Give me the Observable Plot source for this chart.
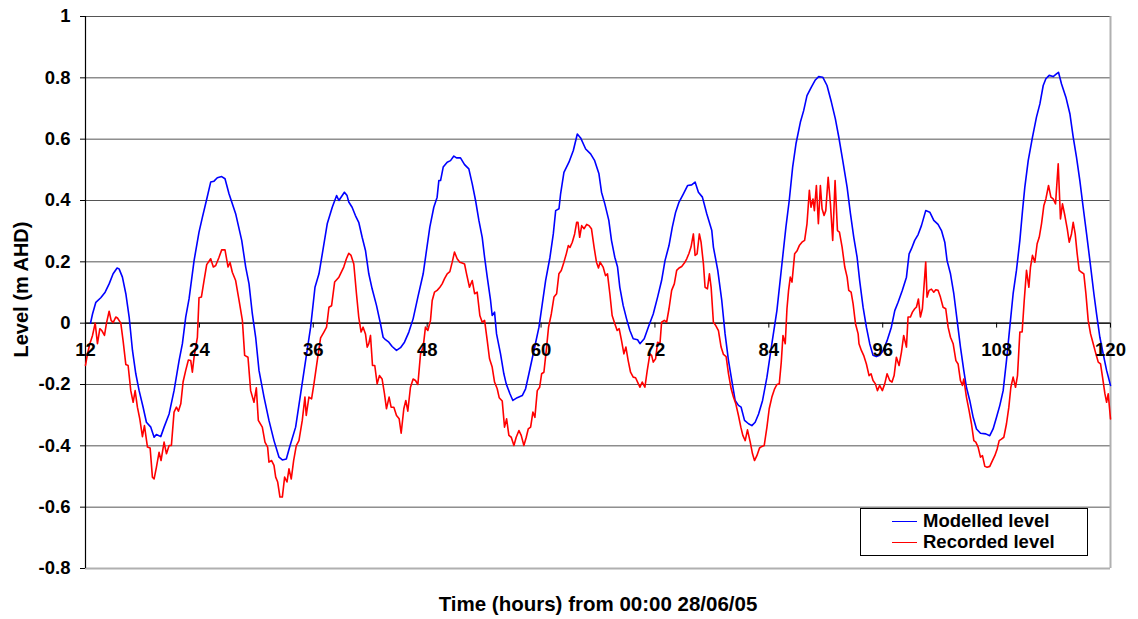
<!DOCTYPE html>
<html>
<head>
<meta charset="utf-8">
<script src="https://cdn.jsdelivr.net/npm/d3@7"></script>
<script src="https://cdn.jsdelivr.net/npm/@observablehq/plot@0.6"></script>
<style>
  html, body { margin: 0; padding: 0; background: #fff; }
  #wrap { position: relative; width: 1138px; height: 619px; font-family: "Liberation Sans", Arial, sans-serif; }
  #legend { position: absolute; left: 860px; top: 508px; width: 226px; height: 46px; border: 1px solid #000; background: #fff; }
  .item { position: absolute; left: 0; height: 20px; display: flex; align-items: center; font-weight: bold; font-size: 18.5px; color: #000; }
  .sw { width: 25px; height: 0; border-top: 1.5px solid; margin-left: 31px; margin-right: 6px; }
</style>
</head>
<body>
<div id="wrap">
  <div id="chart"></div>
  <div id="legend">
    <div class="item" style="top:2px"><span class="sw" style="border-color:#0000ff"></span>Modelled level</div>
    <div class="item" style="top:23px"><span class="sw" style="border-color:#ff0000"></span>Recorded level</div>
  </div>
</div>
<script>
const xTicks = [12, 24, 36, 48, 60, 72, 84, 96, 108, 120];
const yTicks = [-0.8, -0.6, -0.4, -0.2, 0, 0.2, 0.4, 0.6, 0.8, 1];
const xTitle = "Time (hours) from 00:00 28/06/05";
const yTitle = "Level (m AHD)";

const modelledHours = [12.53,12.74,13.09,13.61,14.07,14.49,14.91,15.33,15.54,15.89,16.25,16.60,16.95,17.30,17.65,18.07,18.42,18.88,19.23,19.47,19.93,20.28,20.81,21.33,21.86,22.21,22.56,22.91,23.44,23.96,24.32,24.74,25.19,25.54,25.89,26.35,26.70,27.12,27.82,28.46,28.88,29.23,29.58,29.93,30.28,30.81,31.33,31.86,32.39,32.74,33.16,33.51,34.14,34.67,35.19,35.72,36.18,36.60,36.95,37.47,38.00,38.46,38.70,
39.28,39.56,39.74,40.09,40.44,40.79,41.15,41.50,41.85,42.20,42.66,43.08,43.36,43.61,43.96,44.31,44.77,45.19,45.61,46.07,46.52,47.02,47.58,47.93,48.28,48.70,49.05,49.23,49.41,49.69,50.11,50.46,50.81,51.09,51.51,51.94,52.39,52.75,53.10,53.45,53.80,54.05,54.33,54.68,54.85,55.10,55.31,55.73,56.08,56.33,56.72,57.03,57.49,58.02,58.37,58.72,59.25,59.78,60.13,60.48,60.94,61.29,61.54,61.89,62.06,62.41,62.94,63.40,63.82,64.17,64.70,65.22,65.65,66.10,
66.37,66.72,67.14,67.42,67.77,68.06,68.30,68.65,69.01,69.36,69.71,70.17,70.42,70.87,71.30,71.82,72.28,72.70,73.06,73.48,73.83,74.18,74.54,75.00,75.45,75.87,76.23,76.58,77.00,77.46,77.99,78.16,78.62,79.04,79.39,79.75,80.10,80.45,80.80,81.08,81.44,81.86,82.21,82.56,82.92,83.34,83.80,84.32,84.85,85.38,85.80,86.15,86.51,86.86,87.32,87.67,88.02,88.48,88.90,89.25,89.68,90.13,90.59,91.01,91.37,91.79,92.25,92.60,92.95,93.30,
93.57,93.93,94.28,94.63,94.98,95.33,95.68,96.04,96.46,96.91,97.27,97.62,98.07,98.50,98.78,99.02,99.37,99.73,100.08,100.53,100.96,101.38,101.83,102.19,102.54,102.78,103.14,103.49,103.84,104.19,104.54,104.82,105.17,105.53,105.88,106.30,106.86,107.28,107.63,107.99,108.34,108.69,109.04,109.39,109.74,110.09,110.45,110.73,110.97,111.33,111.78,112.20,112.56,112.91,113.19,113.54,113.96,114.24,114.52,114.84,115.30,115.72,116.07,116.42,116.77,117.12,117.48,117.83,118.25,118.53,118.88,119.23,119.59,120.00];
const modelledLevels = [0,0.03,0.068,0.083,0.101,0.128,0.161,0.18,0.177,0.15,0.096,0.02,-0.089,-0.165,-0.22,-0.274,-0.323,-0.339,-0.372,-0.363,-0.37,-0.339,-0.296,-0.22,-0.122,-0.067,0.02,0.079,0.204,0.297,0.346,0.4,0.46,0.463,0.474,0.478,0.471,0.422,0.357,0.27,0.183,0.128,0.03,-0.046,-0.154,-0.241,-0.317,-0.383,-0.437,-0.446,-0.443,-0.404,-0.339,-0.23,-0.122,-0.013,0.117,0.161,0.226,0.324,0.378,0.416,0.4,
0.427,0.416,0.395,0.378,0.351,0.329,0.28,0.237,0.161,0.112,0.058,-0.002,-0.046,-0.054,-0.062,-0.076,-0.089,-0.08,-0.062,-0.029,0.014,0.085,0.161,0.237,0.313,0.378,0.411,0.465,0.465,0.509,0.525,0.53,0.545,0.539,0.539,0.517,0.503,0.454,0.4,0.335,0.28,0.215,0.15,0.074,0.025,0.036,-0.035,-0.1,-0.165,-0.198,-0.23,-0.252,-0.243,-0.236,-0.214,-0.165,-0.089,-0.013,0.063,0.139,0.215,0.291,0.367,0.373,0.422,0.492,0.525,0.563,0.617,0.604,0.568,0.552,0.53,0.487,
0.427,0.389,0.335,0.27,0.215,0.183,0.117,0.058,0.014,-0.024,-0.051,-0.054,-0.067,-0.051,-0.013,0.03,0.085,0.139,0.204,0.253,0.313,0.362,0.395,0.422,0.449,0.451,0.46,0.427,0.411,0.357,0.302,0.248,0.172,0.074,-0.035,-0.122,-0.187,-0.252,-0.268,-0.274,-0.317,-0.328,-0.334,-0.323,-0.296,-0.252,-0.176,-0.067,0.041,0.193,0.313,0.4,0.509,0.585,0.655,0.693,0.742,0.77,0.793,0.804,0.802,0.775,0.721,0.666,0.607,0.53,0.443,0.357,0.28,0.215,
0.139,0.052,-0.013,-0.067,-0.105,-0.109,-0.105,-0.089,-0.057,-0.013,0.041,0.068,0.107,0.15,0.226,0.242,0.27,0.289,0.318,0.367,0.362,0.335,0.322,0.302,0.264,0.204,0.161,0.096,0.009,-0.078,-0.154,-0.209,-0.252,-0.307,-0.345,-0.359,-0.361,-0.367,-0.345,-0.307,-0.268,-0.22,-0.122,-0.013,0.096,0.172,0.27,0.367,0.443,0.53,0.607,0.672,0.715,0.775,0.797,0.808,0.804,0.811,0.818,0.78,0.737,0.683,0.607,0.541,0.465,0.378,0.291,0.204,0.096,0.03,-0.046,-0.1,-0.154,-0.203];

const recordedHours = [12.00,12.21,12.46,12.74,13.02,13.26,13.51,13.72,14.00,14.21,14.49,14.70,14.91,15.19,15.37,15.72,15.96,16.25,16.49,16.77,17.02,17.23,17.47,17.72,18.00,18.21,18.53,18.81,19.05,19.23,19.47,19.75,19.96,20.28,20.53,20.81,21.05,21.33,21.58,21.79,22.04,22.28,22.56,22.84,23.09,23.26,23.44,23.61,23.79,23.96,24.21,24.49,24.77,25.19,25.47,25.72,26.07,26.35,26.70,27.02,27.23,27.47,27.82,28.18,28.53,28.77,29.12,29.40,29.75,30.00,30.21,30.63,30.91,31.19,31.33,31.61,31.86,32.04,32.25,32.49,32.74,32.98,33.23,33.44,33.68,33.93,34.21,34.49,34.84,35.12,35.26,35.54,35.82,36.07,36.42,36.77,37.12,37.40,37.65,37.93,38.25,38.70,
39.21,39.49,39.74,39.98,40.27,40.55,40.79,41.04,41.25,41.50,41.68,41.85,42.03,42.24,42.48,42.73,42.97,43.25,43.50,43.71,43.99,44.20,44.49,44.77,45.05,45.26,45.54,45.75,45.96,46.24,46.52,46.77,47.02,47.30,47.58,47.82,48.07,48.35,48.53,48.77,49.05,49.34,49.58,49.83,50.11,50.39,50.64,50.88,51.16,51.44,51.69,51.94,52.15,52.46,52.75,53.00,53.27,53.55,53.80,54.05,54.33,54.57,54.85,55.10,55.38,55.59,55.91,56.15,56.37,56.61,56.86,57.14,57.38,57.67,57.91,58.19,58.44,58.65,58.90,59.14,59.35,59.60,59.85,60.06,60.30,60.55,60.79,61.08,61.36,61.64,61.88,62.13,62.41,62.66,62.87,63.05,63.29,63.54,63.75,63.89,64.07,64.28,64.53,64.81,65.06,65.31,65.59,65.84,66.05,66.22,
66.54,66.79,67.00,67.25,67.49,67.77,68.02,68.23,68.48,68.73,68.94,69.18,69.43,69.71,69.96,70.17,70.42,70.66,70.94,71.19,71.47,71.65,71.82,72.07,72.28,72.53,72.70,72.99,73.23,73.48,73.76,74.04,74.29,74.54,74.82,75.10,75.35,75.59,75.80,76.05,76.23,76.44,76.68,76.86,77.11,77.28,77.53,77.74,77.92,78.16,78.41,78.69,78.97,79.22,79.50,79.75,80.03,80.27,80.52,80.80,81.05,81.26,81.51,81.75,82.04,82.28,82.49,82.74,83.02,83.27,83.51,83.80,84.04,84.32,84.61,84.85,85.10,85.31,85.49,85.73,85.91,86.08,86.26,86.44,86.72,86.96,87.21,87.49,87.77,88.02,88.27,88.44,88.65,88.80,89.01,89.22,89.43,89.61,89.82,90.00,90.25,90.49,90.73,90.98,91.23,91.44,91.72,92.00,92.25,92.42,92.67,92.88,93.13,93.41,
93.50,93.75,93.99,94.28,94.56,94.77,94.98,95.23,95.44,95.68,95.96,96.21,96.46,96.74,96.98,97.20,97.44,97.72,97.97,98.21,98.50,98.67,98.92,99.13,99.37,99.55,99.76,99.97,100.18,100.43,100.53,100.67,100.89,101.13,101.38,101.59,101.83,102.08,102.36,102.64,102.89,103.14,103.42,103.71,103.94,104.19,104.40,104.54,104.82,105.10,105.35,105.60,105.81,106.05,106.30,106.51,106.76,107.00,107.28,107.56,107.81,108.06,108.27,108.51,108.76,109.04,109.29,109.50,109.74,109.99,110.20,110.45,110.69,110.91,111.15,111.40,111.57,111.78,112.03,112.27,112.49,112.73,112.98,113.19,113.47,113.72,113.96,114.21,114.49,114.73,114.94,115.19,115.44,115.65,115.89,116.07,116.28,116.49,116.70,116.95,117.19,117.41,117.65,117.90,118.18,118.46,118.71,118.95,119.16,119.41,119.59,119.76,120.00];
const recordedLevels = [-0.138,-0.1,-0.067,-0.04,0,-0.067,-0.018,-0.024,-0.04,0,0.039,0.009,0.002,0.02,0.017,0,-0.057,-0.135,-0.138,-0.22,-0.258,-0.22,-0.274,-0.312,-0.37,-0.334,-0.404,-0.407,-0.502,-0.508,-0.47,-0.421,-0.448,-0.388,-0.426,-0.399,-0.399,-0.29,-0.274,-0.287,-0.263,-0.192,-0.154,-0.12,-0.122,-0.16,-0.111,-0.078,-0.046,0.083,0.085,0.139,0.191,0.21,0.183,0.188,0.215,0.239,0.239,0.183,0.198,0.166,0.139,0.074,0.009,-0.105,-0.111,-0.22,-0.258,-0.211,-0.317,-0.339,-0.388,-0.404,-0.453,-0.448,-0.464,-0.502,-0.518,-0.567,-0.567,-0.502,-0.518,-0.475,-0.508,-0.448,-0.399,-0.383,-0.317,-0.241,-0.301,-0.241,-0.247,-0.198,-0.122,-0.048,-0.029,-0.013,0.052,0.057,0.134,0.15,
0.183,0.21,0.228,0.221,0.193,0.096,0.02,-0.029,-0.013,-0.035,-0.078,-0.067,-0.04,-0.138,-0.138,-0.198,-0.171,-0.182,-0.23,-0.279,-0.241,-0.274,-0.274,-0.301,-0.312,-0.359,-0.279,-0.252,-0.287,-0.209,-0.182,-0.187,-0.2,-0.1,-0.078,-0.013,-0.024,0.009,0.074,0.101,0.107,0.117,0.128,0.145,0.161,0.168,0.199,0.232,0.21,0.199,0.196,0.193,0.161,0.117,0.139,0.096,0.101,0.025,0.003,0.009,-0.057,-0.116,-0.143,-0.192,-0.214,-0.243,-0.254,-0.339,-0.312,-0.366,-0.372,-0.399,-0.372,-0.35,-0.366,-0.399,-0.372,-0.345,-0.339,-0.29,-0.307,-0.22,-0.209,-0.165,-0.16,-0.089,-0.013,0.03,0.085,0.096,0.161,0.172,0.199,0.226,0.253,0.247,0.264,0.291,0.329,0.329,0.28,0.318,0.308,0.322,0.318,0.308,0.247,0.199,0.18,0.199,
0.183,0.155,0.161,0.096,0.025,-0.002,-0.024,-0.018,-0.057,-0.1,-0.078,-0.122,-0.16,-0.176,-0.178,-0.192,-0.209,-0.192,-0.209,-0.154,-0.1,-0.105,-0.127,-0.116,-0.062,-0.067,0.003,0.009,0.003,0.047,0.107,0.128,0.172,0.18,0.185,0.196,0.21,0.228,0.248,0.291,0.221,0.226,0.291,0.264,0.193,0.117,0.112,0.161,0.117,0.003,-0.008,-0.024,-0.078,-0.102,-0.109,-0.165,-0.214,-0.241,-0.263,-0.301,-0.339,-0.366,-0.383,-0.348,-0.388,-0.426,-0.448,-0.432,-0.407,-0.402,-0.399,-0.339,-0.279,-0.241,-0.214,-0.2,-0.198,-0.127,-0.04,-0.067,0.047,0.107,0.15,0.134,0.226,0.235,0.253,0.264,0.27,0.324,0.433,0.378,0.405,0.367,0.449,0.324,0.449,0.373,0.351,0.367,0.476,0.389,0.27,0.465,0.302,0.297,0.248,0.183,0.15,0.107,0.101,0.063,-0.002,-0.035,
-0.067,-0.089,-0.105,-0.133,-0.171,-0.165,-0.187,-0.198,-0.22,-0.203,-0.22,-0.198,-0.165,-0.187,-0.192,-0.171,-0.111,-0.138,-0.095,-0.04,-0.078,0.02,0.02,0.036,0.047,0.052,0.079,0.02,0.047,0.155,0.199,0.085,0.107,0.111,0.101,0.109,0.107,0.085,0.052,0.047,-0.013,-0.046,-0.067,-0.122,-0.133,-0.187,-0.203,-0.182,-0.241,-0.285,-0.328,-0.383,-0.388,-0.404,-0.437,-0.432,-0.467,-0.47,-0.467,-0.448,-0.432,-0.41,-0.383,-0.378,-0.372,-0.328,-0.274,-0.209,-0.176,-0.209,-0.171,-0.029,-0.029,0.074,0.172,0.117,0.183,0.221,0.199,0.259,0.28,0.324,0.384,0.405,0.449,0.411,0.405,0.389,0.52,0.34,0.389,0.351,0.308,0.264,0.291,0.329,0.291,0.226,0.172,0.166,0.161,0.096,0.009,-0.035,-0.067,-0.1,-0.127,-0.133,-0.176,-0.23,-0.258,-0.23,-0.312];

const modelled = modelledHours.map((h, i) => ({hour: h, level: modelledLevels[i]}));
const recorded = recordedHours.map((h, i) => ({hour: h, level: recordedLevels[i]}));

const fmt = d => String(+d.toFixed(1));
const font = "'Liberation Sans', Arial, sans-serif";

const chart = Plot.plot({
  width: 1138,
  height: 619,
  marginLeft: 85,
  marginRight: 28,
  marginTop: 16,
  marginBottom: 51,
  x: {domain: [12, 120], axis: null},
  y: {domain: [-0.8, 1]},
  style: {fontFamily: font, fontWeight: "bold", fontSize: "18.5px", color: "#000", background: "#fff"},
  marks: [
    Plot.gridY(yTicks, {stroke: "#555", strokeOpacity: 1, strokeWidth: 1}),
    Plot.ruleX([120], {stroke: "#b0b0b0", strokeWidth: 2}),
    Plot.ruleY([-0.8], {stroke: "#b0b0b0", strokeWidth: 2}),
    Plot.axisY(yTicks, {tickSize: 5, tickPadding: 10, tickFormat: fmt, label: null, stroke: "#000", fontSize: 18.5, fontWeight: "bold"}),
    Plot.ruleX([12], {stroke: "#000", strokeWidth: 1.2}),
    Plot.ruleY([0], {stroke: "#000", strokeWidth: 1.2}),
    Plot.ruleX(xTicks, {x: d => d, y1: 0, y2: -0.016, stroke: "#000"}),
    Plot.line(modelled, {x: "hour", y: "level", stroke: "#0000ff", strokeWidth: 1.6}),
    Plot.line(recorded, {x: "hour", y: "level", stroke: "#ff0000", strokeWidth: 1.6}),
    Plot.text(xTicks, {x: d => d, y: 0, dy: 27, text: d => String(d), fontSize: 18.5, fontWeight: "bold", fill: "#000"}),
    Plot.text([xTitle], {frameAnchor: "bottom", textAnchor: "middle", lineAnchor: "middle", dy: 36, text: d => d, fontSize: 20.5, fontWeight: "bold", fill: "#000"}),
    Plot.text([yTitle], {frameAnchor: "left", textAnchor: "middle", lineAnchor: "middle", dx: -64, dy: -3, rotate: -90, text: d => d, fontSize: 20, fontWeight: "bold", fill: "#000"})
  ]
});
document.getElementById("chart").appendChild(chart);
</script>
</body>
</html>
